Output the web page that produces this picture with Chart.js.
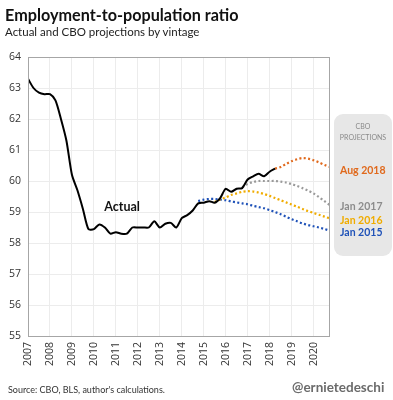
<!DOCTYPE html>
<html>
<head>
<meta charset="utf-8">
<script src="https://cdn.jsdelivr.net/npm/chart.js@4"></script>
<style>
  body { margin: 0; background: #fff; font-family: Lato, sans-serif; }
  #wrap { position: relative; width: 393px; height: 400px; }
  canvas { position: absolute; left: 0; top: 0; }
  .txt { position: absolute; white-space: nowrap; }
  #title { left: 5px; top: 5px; font-size: 16.2px; font-weight: bold; color: #111; }
  #subtitle { left: 5px; top: 25px; font-size: 11.5px; color: #222; }
  #source { left: 8px; top: 384px; font-size: 9px; color: #333; }
  #handle { left: 292px; top: 379px; font-size: 13.5px; font-weight: bold; color: #6b6b6b; }
  #legendBox { position: absolute; left: 334px; top: 114px; width: 58px; height: 142px;
    background: #e7e7e7; border-radius: 9px; }
  .lg { position: absolute; left: 340px; font-size: 10.5px; font-weight: bold; line-height: 12px; }
  .hd { position: absolute; left: 334px; width: 58px; text-align: center; font-size: 7px; color: #8a8a8a; line-height: 8px; }
</style>
</head>
<body>
<div id="wrap">
  <canvas id="chart" width="393" height="400"></canvas>
  <div id="title" class="txt">Employment-to-population ratio</div>
  <div id="subtitle" class="txt">Actual and CBO projections by vintage</div>
  <div id="legendBox"></div>
  <div class="hd" style="top:122px">CBO</div>
  <div class="hd" style="top:133px">PROJECTIONS</div>
  <div class="lg" style="top:164px;color:#e0691c">Aug 2018</div>
  <div class="lg" style="top:200px;color:#8c8c8c">Jan 2017</div>
  <div class="lg" style="top:214px;color:#f0ac00">Jan 2016</div>
  <div class="lg" style="top:226px;color:#1f52b8">Jan 2015</div>
  <div id="source" class="txt">Source: CBO, BLS, author's calculations.</div>
  <div id="handle" class="txt">@ernietedeschi</div>
</div>
<script>
// quarterly, 2007Q1 .. 2018Q2
const actualStart = 2007;
const actual = [
  63.3, 63.0, 62.85, 62.8,
  62.8, 62.6, 62.0, 61.3,
  60.2, 59.7, 59.1, 58.45,
  58.45, 58.6, 58.5, 58.3,
  58.35, 58.3, 58.3, 58.5,
  58.5, 58.5, 58.5, 58.7,
  58.5, 58.62, 58.65, 58.5,
  58.8, 58.9, 59.05, 59.28,
  59.3, 59.35, 59.3, 59.45,
  59.75, 59.65, 59.75, 59.77,
  60.05, 60.15, 60.23, 60.15,
  60.3, 60.4
];

// CBO projections by vintage, quarterly
const aug2018Start = 2018.25;
const aug2018 = [60.4, 60.45, 60.55, 60.64, 60.7, 60.74, 60.72, 60.67, 60.6, 60.52, 60.45];

const jan2017Start = 2016.75;
const jan2017 = [59.8, 59.9, 59.97, 60.0, 60.0, 60.0, 60.0, 59.98, 59.95, 59.9,
  59.84, 59.77, 59.69, 59.6, 59.48, 59.35, 59.22];

const jan2016Start = 2015.5;
const jan2016 = [59.32, 59.4, 59.47, 59.55, 59.6, 59.65, 59.67, 59.66, 59.63, 59.58,
  59.52, 59.45, 59.38, 59.31, 59.24, 59.17, 59.1, 59.03, 58.97, 58.91, 58.85, 58.79];

const jan2015Start = 2014.75;
const jan2015 = [59.35, 59.4, 59.42, 59.42, 59.4, 59.38, 59.34, 59.31, 59.28, 59.25,
  59.2, 59.16, 59.12, 59.06, 59.0, 58.93, 58.85, 58.77, 58.7, 58.63, 58.58, 58.54,
  58.5, 58.45, 58.4];

const yearTicks = [2007, 2008, 2009, 2010, 2011, 2012, 2013, 2014, 2015, 2016, 2017, 2018, 2019, 2020];
const yTicks = [55, 56, 57, 58, 59, 60, 61, 62, 63, 64];

function toPoints(start, values) {
  return values.map((v, i) => ({ x: start + i * 0.25, y: v }));
}

function dotted(label, start, values, color) {
  return {
    label: label,
    data: toPoints(start, values),
    borderColor: color,
    borderWidth: 2.2,
    borderDash: [2, 2.4],
    pointRadius: 0,
    tension: 0.3,
    fill: false
  };
}

const framePlugin = {
  id: "frame",
  afterDatasetsDraw(chart) {
    const a = chart.chartArea;
    const ctx = chart.ctx;
    ctx.save();
    ctx.strokeStyle = "#a6a6a6";
    ctx.lineWidth = 1;
    ctx.strokeRect(a.left + 0.5, a.top + 0.5, a.right - a.left - 1, a.bottom - a.top);
    // "Actual" label
    const x = chart.scales.x.getPixelForValue(2010.47);
    const y = chart.scales.y.getPixelForValue(59.16);
    ctx.fillStyle = "#111";
    ctx.font = "bold 12.5px Lato, sans-serif";
    ctx.textAlign = "left";
    ctx.textBaseline = "middle";
    ctx.fillText("Actual", x, y);
    ctx.restore();
  }
};

const ctx = document.getElementById("chart").getContext("2d");
new Chart(ctx, {
  type: "line",
  data: {
    datasets: [
      {
        label: "Actual",
        data: toPoints(actualStart, actual),
        borderColor: "#000",
        borderWidth: 2,
        pointRadius: 0,
        tension: 0.25,
        fill: false
      },
      dotted("Aug 2018", aug2018Start, aug2018, "#e0691c"),
      dotted("Jan 2017", jan2017Start, jan2017, "#9a9a9a"),
      dotted("Jan 2016", jan2016Start, jan2016, "#f0ac00"),
      dotted("Jan 2015", jan2015Start, jan2015, "#1f52b8")
    ]
  },
  options: {
    responsive: false,
    animation: false,
    layout: { padding: { top: 57, right: 63, left: 0, bottom: 0 } },
    plugins: { legend: { display: false }, tooltip: { enabled: false } },
    scales: {
      x: {
        type: "linear",
        min: 2007,
        max: 2020.75,
        afterBuildTicks: scale => { scale.ticks = yearTicks.map(v => ({ value: v })); },
        afterFit: scale => { scale.height = 64; },
        grid: { color: "#ececec", drawTicks: false },
        border: { display: false },
        ticks: {
          callback: v => String(v),
          minRotation: 90,
          maxRotation: 90,
          padding: 6,
          color: "#333",
          font: { family: "Open Sans", size: 10.5 }
        }
      },
      y: {
        min: 55,
        max: 64,
        afterBuildTicks: scale => { scale.ticks = yTicks.map(v => ({ value: v })); },
        afterFit: scale => { scale.width = 28; },
        grid: { color: "#ececec", drawTicks: false },
        border: { display: false },
        ticks: {
          padding: 7,
          color: "#333",
          font: { family: "Open Sans", size: 10.5 }
        }
      }
    }
  },
  plugins: [framePlugin]
});
</script>
</body>
</html>
